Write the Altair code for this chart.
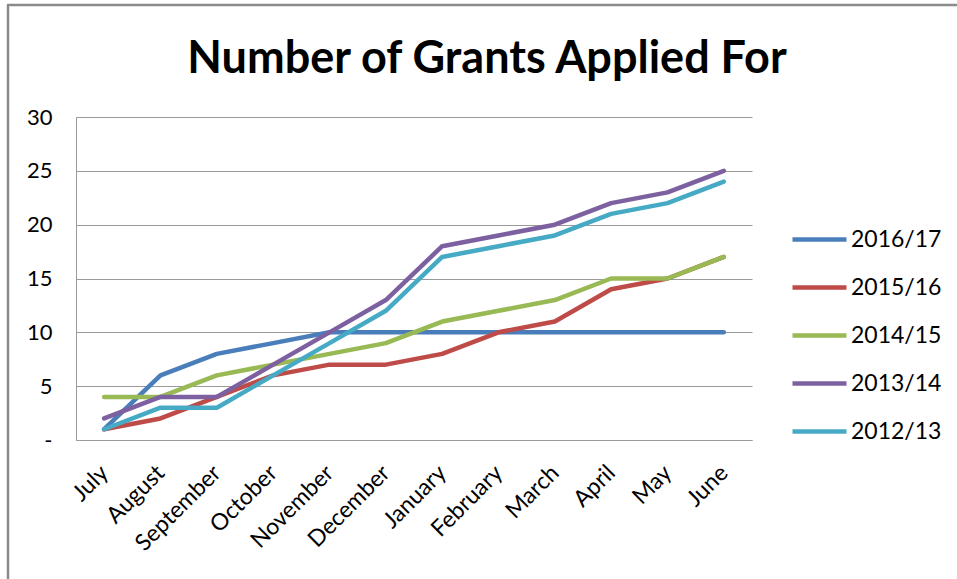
import altair as alt
import pandas as pd

months = ["July", "August", "September", "October", "November", "December",
          "January", "February", "March", "April", "May", "June"]
series_names = ["2016/17", "2015/16", "2014/15", "2013/14", "2012/13"]
s2016 = [1, 6, 8, 9, 10, 10, 10, 10, 10, 10, 10, 10]
s2015 = [1, 2, 4, 6, 7, 7, 8, 10, 11, 14, 15, 17]
s2014 = [4, 4, 6, 7, 8, 9, 11, 12, 13, 15, 15, 17]
s2013 = [2, 4, 4, 7, 10, 13, 18, 19, 20, 22, 23, 25]
s2012 = [1, 3, 3, 6, 9, 12, 17, 18, 19, 21, 22, 24]
colors = ["#4A7EBB", "#BE4B48", "#98B954", "#7D60A0", "#46AAC5"]
y_ticks = [0, 5, 10, 15, 20, 25, 30]

values = [s2016, s2015, s2014, s2013, s2012]
rows = []
for name, vals in zip(series_names, values):
    for i, (m, v) in enumerate(zip(months, vals)):
        rows.append({"Month": m, "Series": name, "Value": v, "order": i})
df = pd.DataFrame(rows)

FONT = "Lato"
GRID = "#9a9a9a"

lines = alt.Chart(df).mark_line(strokeWidth=4.5, strokeJoin="round", strokeCap="round").encode(
    x=alt.X("Month:N", sort=months, title=None,
            scale=alt.Scale(paddingInner=0, paddingOuter=0.5),
            axis=alt.Axis(labelAngle=-45, labelAlign="right", labelBaseline="middle",
                          labelPadding=29, ticks=False, domainColor=GRID, domainWidth=1,
                          labelFontSize=23, labelFont=FONT, labelColor="#000000",
                          labelOverlap=False)),
    y=alt.Y("Value:Q", title=None,
            scale=alt.Scale(domain=[0, 30], nice=False),
            axis=alt.Axis(values=y_ticks, ticks=False, domainColor=GRID, domainWidth=1,
                          gridColor=GRID, gridWidth=1, labelPadding=24,
                          labelFontSize=22, labelFont=FONT, labelColor="#000000",
                          labelExpr="datum.value == 0 ? '-' : datum.label")),
    color=alt.Color("Series:N", sort=series_names,
                    scale=alt.Scale(domain=series_names, range=colors),
                    legend=alt.Legend(title=None, orient="none", legendX=714, legendY=93,
                                      symbolType="stroke", symbolSize=2916,
                                      symbolStrokeWidth=4.5, labelFontSize=23,
                                      labelFont=FONT, labelColor="#000000",
                                      labelOffset=2, rowPadding=6, padding=0)),
    order="order:Q",
    detail="Series:N",
)

border_df = pd.DataFrame({"k": [0]})
border_left = alt.Chart(border_df).mark_rule(color="#8a8a8a", strokeWidth=2.5).encode(
    x=alt.value(-68), y=alt.value(-112), y2=alt.value(700))
border_top = alt.Chart(border_df).mark_rule(color="#8a8a8a", strokeWidth=2.5).encode(
    x=alt.value(-69), x2=alt.value(1000), y=alt.value(-112))

chart = alt.layer(lines, border_left, border_top).properties(
    width=676, height=323,
    autosize=alt.AutoSizeParams(type="none"),
    padding={"left": 76, "top": 117, "right": 205, "bottom": 139},
    title=alt.TitleParams("Number of Grants Applied For", font=FONT, fontSize=45,
                          fontWeight="bold", color="#000000", anchor="middle",
                          frame="group", dx=73, offset=28, dy=106),
).configure_view(stroke=None).configure_axis(gridColor=GRID)

chart.save("out.html", embed_options={"renderer": "svg", "actions": False})
